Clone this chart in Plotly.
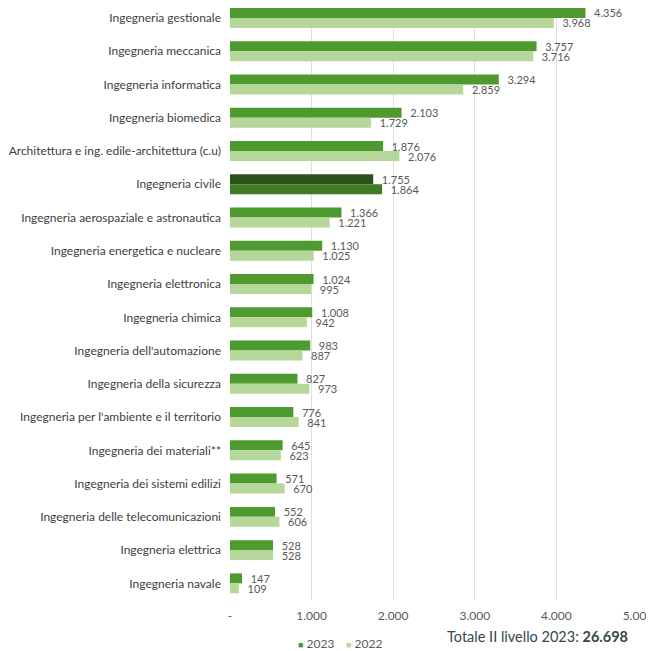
import plotly.graph_objects as go

categories = [
    "Ingegneria gestionale",
    "Ingegneria meccanica",
    "Ingegneria informatica",
    "Ingegneria biomedica",
    "Architettura e ing. edile-architettura (c.u)",
    "Ingegneria civile",
    "Ingegneria aerospaziale e astronautica",
    "Ingegneria energetica e nucleare",
    "Ingegneria elettronica",
    "Ingegneria chimica",
    "Ingegneria dell'automazione",
    "Ingegneria della sicurezza",
    "Ingegneria per l'ambiente e il territorio",
    "Ingegneria dei materiali**",
    "Ingegneria dei sistemi edilizi",
    "Ingegneria delle telecomunicazioni",
    "Ingegneria elettrica",
    "Ingegneria navale",
]
values_2023 = [4356, 3757, 3294, 2103, 1876, 1755, 1366, 1130, 1024, 1008, 983, 827, 776, 645, 571, 552, 528, 147]
values_2022 = [3968, 3716, 2859, 1729, 2076, 1864, 1221, 1025, 995, 942, 887, 973, 841, 623, 670, 606, 528, 109]
series_names = ["2023", "2022"]
tick_values = [0, 1000, 2000, 3000, 4000, 5000]
tick_labels = ["-", "1.000", "2.000", "3.000", "4.000", "5.000"]
highlight = "Ingegneria civile"
total_label = "Totale II livello 2023: <b>26.698</b>"

C23, C22 = "#4f9a2f", "#b6d79a"
H23, H22 = "#2b5219", "#3f7a25"
colors_23 = [H23 if c == highlight else C23 for c in categories]
colors_22 = [H22 if c == highlight else C22 for c in categories]

FONT = "Lato"
LBL = dict(family=FONT, size=11, color="#595959")

fig = go.Figure()
for name, vals, cols in ((series_names[0], values_2023, colors_23),
                         (series_names[1], values_2022, colors_22)):
    fig.add_trace(go.Bar(
        y=categories, x=vals, orientation="h", name=name,
        marker=dict(color=cols, line=dict(width=0)),
        text=vals, texttemplate="\u00a0\u00a0%{x:,d}", textposition="outside",
        constraintext="none", textfont=LBL, cliponaxis=False, showlegend=False,
    ))

# page body has an 8px margin: figure is sized to the visible area
fig.update_layout(
    width=646, height=643,
    margin=dict(l=222, r=16, t=0, b=51, autoexpand=False),
    paper_bgcolor="white", plot_bgcolor="white",
    separators=",.",
    barmode="group", bargap=0.4, bargroupgap=0,
    font=dict(family=FONT, size=12, color="#404040"),
    showlegend=False,
)
fig.update_xaxes(range=[0, 5000], tickvals=tick_values, ticktext=tick_labels,
                 showgrid=True, gridcolor="#dedede", gridwidth=1, zeroline=False,
                 showline=False, ticks="", ticklabelstandoff=7, automargin=False,
                 tickfont=dict(family=FONT, size=12, color="#595959"))
fig.update_yaxes(range=[17.5, -0.3], showgrid=False, showline=False, ticks="",
                 ticklabelstandoff=8, automargin=False,
                 tickfont=dict(family=FONT, size=12, color="#404040"))

# legend entries
for xpos, name, col in ((0.162, series_names[0], C23), (0.279, series_names[1], C22)):
    fig.add_annotation(text=f'<span style="color:{col};font-size:9px">\u25a0</span> {name}',
                       xref="paper", yref="paper", x=xpos, y=-0.073,
                       xanchor="left", yanchor="middle", showarrow=False,
                       font=dict(family=FONT, size=12, color="#595959"))

fig.add_annotation(text=total_label, xref="paper", yref="paper",
                   x=0.98, y=-0.061, xanchor="right", yanchor="middle", showarrow=False,
                   font=dict(family=FONT, size=14.5, color="#344848"))

fig.write_html("out.html")
